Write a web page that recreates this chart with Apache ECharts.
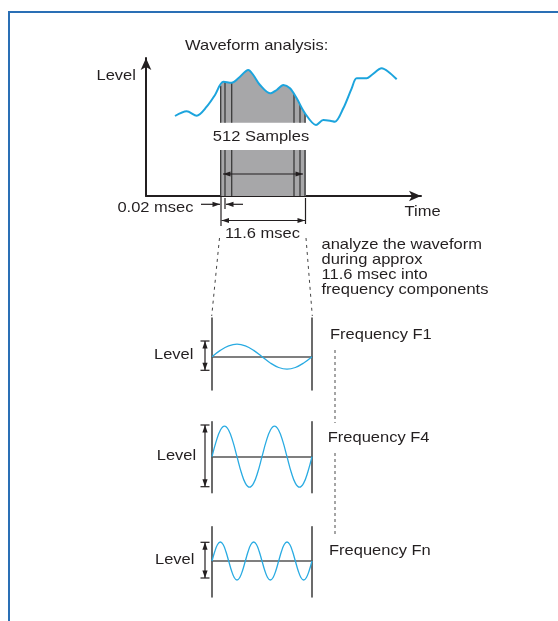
<!DOCTYPE html>
<html><head><meta charset="utf-8">
<script src="https://cdn.jsdelivr.net/npm/echarts@6/dist/echarts.min.js"></script>
<style>html,body{margin:0;padding:0;background:#fff;}#c{width:558px;height:621px;}</style>
</head><body><div id="c"></div>
<script>
// ---------------- data ----------------
// top waveform (time units, level units)
const waveTime  = [29, 40.7, 50.7, 60.7, 69, 77.3, 85.7, 92.3, 102.3, 107.3, 114, 124, 130.7, 137.3, 144, 150.7, 159, 170, 177.3, 184, 189, 197.3, 205.7, 210.7, 220.7, 225.7, 235.7, 242.3, 250.7];
const waveLevel = [80, 84.7, 80.3, 89.3, 101, 114.3, 113.3, 117.7, 126, 121, 111, 102.7, 106, 111, 107.7, 97.7, 82.7, 71, 76, 75.3, 74.3, 87.7, 107.7, 117.7, 117.7, 121, 127.7, 124.3, 116.7];
// analysis window (512 samples)
const windowTime = [74, 160];
const windowEdgeLevel = [109, 81.6];
const windowFloor = 73.3;
const sampleBarTop = 46;
const sampleTimes = [74.7, 79, 85.7, 148, 154, 159];
// frequency components (level values read at 1/12-period steps)
const f1Level = [0, 6.3, 10.8, 12.5, 10.8, 6.3, 0, -6.3, -10.8, -12.5, -10.8, -6.3, 0];
const f4Level = [0, 15.3, 26.4, 30.5, 26.4, 15.3, 0, -15.3, -26.4, -30.5, -26.4, -15.3,
                 0, 15.3, 26.4, 30.5, 26.4, 15.3, 0, -15.3, -26.4, -30.5, -26.4, -15.3, 0];
const fnLevel = [0, 9.5, 16.5, 19, 16.5, 9.5, 0, -9.5, -16.5, -19, -16.5, -9.5,
                 0, 9.5, 16.5, 19, 16.5, 9.5, 0, -9.5, -16.5, -19, -16.5, -9.5,
                 0, 9.5, 16.5, 19, 16.5, 9.5, 0, -9.5, -16.5, -19, -16.5, -9.5, 0];
const componentNames = ['Frequency F1', 'Frequency F4', 'Frequency Fn'];

// ---------------- helpers ----------------
const INK = '#231f20', BLUE = '#1ca4dd', GREY = '#a7a7a9', DARK = '#3a3a3a';
const FONT = '15px "Liberation Sans", Arial, sans-serif';
function label(text, x, y, align) {
  return { type: 'text', x: x, y: y, scaleX: 1.1, z: 20,
    style: { text: text, x: 0, y: 0, font: FONT, fill: INK,
      textAlign: align, align: align, textVerticalAlign: 'middle', verticalAlign: 'middle' } };
}
function seg(x1, y1, x2, y2, color, w, dash) {
  return { type: 'line', z: 15, shape: { x1, y1, x2, y2 },
    style: { stroke: color || INK, lineWidth: w || 1.2, lineDash: dash || null } };
}
function head(tx, ty, fx, fy, len, hw) {
  len = len || 7.5; hw = hw || 2.6;
  const d = Math.hypot(tx - fx, ty - fy), ux = (tx - fx) / d, uy = (ty - fy) / d;
  const bx = tx - ux * len, by = ty - uy * len;
  return { type: 'polygon', z: 16, shape: { points: [[tx, ty], [bx - uy * hw, by + ux * hw], [bx + uy * hw, by - ux * hw]] },
    style: { fill: INK } };
}
function arrow(x1, y1, x2, y2, both) {
  const out = [seg(x1, y1, x2, y2), head(x2, y2, x1, y1)];
  if (both) out.push(head(x1, y1, x2, y2));
  return out;
}
function levelArrow(x, y1, y2) {
  return [seg(x - 4.5, y1, x + 4.5, y1), seg(x - 4.5, y2, x + 4.5, y2)].concat(arrow(x, y1, x, y2, true));
}
function levelAt(t) {
  for (let i = 1; i < waveTime.length; i++) {
    if (t <= waveTime[i]) {
      const f = (t - waveTime[i - 1]) / (waveTime[i] - waveTime[i - 1]);
      return waveLevel[i - 1] + f * (waveLevel[i] - waveLevel[i - 1]);
    }
  }
  return waveLevel[waveLevel.length - 1];
}

const wavePts = waveTime.map((t, i) => [t, waveLevel[i]]);
const areaPts = [[windowTime[0], windowEdgeLevel[0]]]
  .concat(wavePts.filter(p => p[0] > windowTime[0] && p[0] < windowTime[1]))
  .concat([[windowTime[1], windowEdgeLevel[1]]]);

const hidden = { axisTick: { show: false }, axisLabel: { show: false }, splitLine: { show: false } };
const topAxisLine = { show: true, onZero: false, symbol: ['none', 'arrow'], symbolSize: [8, 12],
  lineStyle: { color: INK, width: 2 } };

function panelAxes(gi, n) {
  return {
    x: Object.assign({ type: 'category', gridIndex: gi, boundaryGap: false, data: Array.from({ length: n }, (_, i) => i),
      axisLine: { show: true, onZero: true, lineStyle: { color: '#555', width: 1.5 } } }, hidden),
    yl: Object.assign({ type: 'value', gridIndex: gi, position: 'left',
      axisLine: { show: true, onZero: false, lineStyle: { color: DARK, width: 1.5 } } }, hidden),
    yr: Object.assign({ type: 'value', gridIndex: gi, position: 'right',
      axisLine: { show: true, onZero: false, lineStyle: { color: DARK, width: 1.5 } } }, hidden)
  };
}
const p1 = panelAxes(1, f1Level.length), p2 = panelAxes(2, f4Level.length), p3 = panelAxes(3, fnLevel.length);
Object.assign(p1.yl, { min: -33.3, max: 38.7 }); Object.assign(p1.yr, { min: -33.3, max: 38.7 });
Object.assign(p2.yl, { min: -36, max: 35 });     Object.assign(p2.yr, { min: -36, max: 35 });
Object.assign(p3.yl, { min: -36, max: 34.3 });   Object.assign(p3.yr, { min: -36, max: 34.3 });

const sine = (xi, yi, data) => ({ type: 'line', xAxisIndex: xi, yAxisIndex: yi, data: data, smooth: 0.4,
  showSymbol: false, silent: true, lineStyle: { color: '#29abe2', width: 1.3 }, z: 5 });

const graphics = [
  { type: 'rect', z: 1, shape: { x: 9, y: 12, width: 620, height: 720 }, style: { fill: 'none', stroke: '#2a6fb5', lineWidth: 2 } },
  label('Waveform analysis:', 185, 45.5, 'left'),
  label('Level', 96.5, 75.5, 'left'),
  label('512 Samples', 261, 136.5, 'center'),
  label('0.02 msec', 193.5, 208, 'right'),
  label('Time', 404.5, 212, 'left'),
  label('11.6 msec', 262.5, 233.5, 'center'),
  label('analyze the waveform', 321.5, 244.5, 'left'),
  label('during approx', 321.5, 259.5, 'left'),
  label('11.6 msec into', 321.5, 274.5, 'left'),
  label('frequency components', 321.5, 289.5, 'left'),
  label(componentNames[0], 330, 335, 'left'),
  label(componentNames[1], 327.7, 437.5, 'left'),
  label(componentNames[2], 329, 551, 'left'),
  label('Level', 154, 355, 'left'),
  label('Level', 156.7, 455.5, 'left'),
  label('Level', 155, 560, 'left'),
  seg(221, 197, 221, 226), seg(225, 198, 225, 209), seg(305.5, 198, 305.5, 224),
  seg(219.5, 238, 211.7, 316, '#444', 1, [3, 4]), seg(306, 238, 312.3, 316, '#444', 1, [3, 4]),
  seg(335, 350, 335, 423, '#888', 1.5, [3, 3]), seg(335, 453, 335, 535, '#888', 1.5, [3, 3])
].concat(arrow(201, 204.3, 220, 204.3))
 .concat(arrow(243, 204.3, 226, 204.3))
 .concat(arrow(221.5, 220.5, 305, 220.5, true))
 .concat(arrow(223, 174, 303, 174, true))
 .concat(levelArrow(205, 341, 370.3))
 .concat(levelArrow(205, 425, 486.7))
 .concat(levelArrow(205, 542.3, 578));

const chart = echarts.init(document.getElementById('c'), null, { renderer: 'canvas' });
chart.setOption({
  backgroundColor: '#fff',
  animation: false,
  grid: [
    { left: 146, top: 58, width: 275, height: 138 },
    { left: 212, top: 318, width: 100, height: 72 },
    { left: 212, top: 421.7, width: 100, height: 71 },
    { left: 212, top: 526.7, width: 100, height: 70.3 }
  ],
  xAxis: [
    Object.assign({ type: 'value', gridIndex: 0, min: 0, max: 275, axisLine: topAxisLine }, hidden),
    p1.x, p2.x, p3.x
  ],
  yAxis: [
    Object.assign({ type: 'value', gridIndex: 0, min: 0, max: 138, axisLine: topAxisLine }, hidden),
    p1.yl, p1.yr, p2.yl, p2.yr, p3.yl, p3.yr
  ],
  series: [
    { type: 'line', xAxisIndex: 0, yAxisIndex: 0, data: areaPts, smooth: 0.3, showSymbol: false, silent: true,
      lineStyle: { width: 0 }, areaStyle: { color: GREY, opacity: 1, origin: windowFloor }, z: 1 },
    { type: 'custom', xAxisIndex: 0, yAxisIndex: 0, data: [[windowTime[0], windowTime[1]]], z: 1, silent: true,
      renderItem: function (params, api) {
        const a = api.coord([api.value(0), sampleBarTop]), b = api.coord([api.value(1), 0]);
        return { type: 'rect', shape: { x: a[0], y: a[1], width: b[0] - a[0], height: b[1] - a[1] }, style: { fill: GREY } };
      } },
    { type: 'custom', xAxisIndex: 0, yAxisIndex: 0, data: sampleTimes.map(t => [t, 0]), z: 2, silent: true,
      renderItem: function (params, api) {
        const t = api.value(0);
        const l0 = api.coord([t, 0]), l1 = api.coord([t, sampleBarTop]);
        const u0 = api.coord([t, windowFloor]), u1 = api.coord([t, levelAt(t)]);
        const st = { stroke: DARK, lineWidth: 1.3 };
        return { type: 'group', children: [
          { type: 'line', shape: { x1: l0[0], y1: l0[1], x2: l1[0], y2: l1[1] }, style: st },
          { type: 'line', shape: { x1: u0[0], y1: u0[1], x2: u1[0], y2: u1[1] }, style: st }
        ] };
      } },
    { type: 'line', xAxisIndex: 0, yAxisIndex: 0, data: wavePts, smooth: 0.3, showSymbol: false, silent: true,
      lineStyle: { color: BLUE, width: 2 }, z: 6 },
    sine(1, 1, f1Level),
    sine(2, 3, f4Level),
    sine(3, 5, fnLevel)
  ],
  graphic: { elements: graphics }
});
</script></body></html>
